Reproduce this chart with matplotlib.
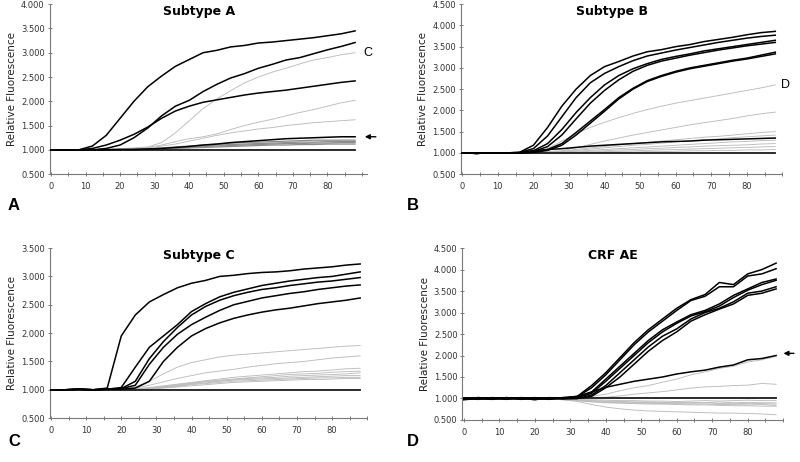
import matplotlib
matplotlib.use("Agg")
import matplotlib.pyplot as plt   # type: ignore
import numpy as np   # type: ignore

cycles = [0, 4, 8, 12, 16, 20, 24, 28, 32, 36, 40, 44,
          48, 52, 56, 60, 64, 68, 72, 76, 80, 84, 88]

flat = [1.0] * 23

# ---------------- Subtype A ----------------
a_black = [
    [1.0, 1.0, 1.0, 1.08, 1.3, 1.65, 2.0, 2.3, 2.52, 2.72, 2.86, 3.0,
     3.05, 3.12, 3.15, 3.2, 3.22, 3.25, 3.28, 3.31, 3.35, 3.39, 3.45],
    [1.0, 1.0, 1.0, 1.0, 1.03, 1.1, 1.25, 1.45, 1.7, 1.9, 2.02, 2.2,
     2.35, 2.48, 2.57, 2.68, 2.76, 2.85, 2.9, 2.98, 3.06, 3.13, 3.21],
    [1.0, 1.0, 1.0, 1.03, 1.1, 1.2, 1.32, 1.47, 1.65, 1.8, 1.9, 1.98,
     2.03, 2.08, 2.13, 2.17, 2.2, 2.23, 2.27, 2.31, 2.35, 2.39, 2.42],
    [1.0, 1.0, 1.0, 1.0, 1.0, 1.01, 1.01, 1.02, 1.03, 1.05, 1.07, 1.1,
     1.12, 1.15, 1.17, 1.19, 1.21, 1.23, 1.24, 1.25, 1.26, 1.27, 1.27],
]
a_light = [
    [1.0, 1.0, 1.0, 1.01, 1.02, 1.03, 1.04, 1.06, 1.15, 1.35, 1.6, 1.85,
     2.05, 2.22, 2.38, 2.5, 2.6, 2.68, 2.77, 2.85, 2.9, 2.96, 3.0],
    [1.0, 1.0, 1.0, 1.0, 1.01, 1.02, 1.03, 1.05, 1.1, 1.17, 1.23, 1.27,
     1.33, 1.42, 1.5, 1.57, 1.63, 1.7, 1.77, 1.83, 1.9, 1.97, 2.02],
    [1.0, 1.0, 1.0, 1.0, 1.01, 1.02, 1.03, 1.04, 1.08, 1.12, 1.18, 1.24,
     1.3, 1.35, 1.39, 1.43, 1.46, 1.5, 1.53, 1.56, 1.58, 1.6, 1.62],
]
a_gray = [
    [1.0, 1.0, 1.0, 1.0, 1.0, 1.0, 1.01, 1.02, 1.04, 1.06, 1.08, 1.1,
     1.12, 1.14, 1.15, 1.16, 1.17, 1.18, 1.19, 1.2, 1.2, 1.2, 1.2],
    [1.0, 1.0, 1.0, 1.0, 1.0, 1.0, 1.01, 1.02, 1.03, 1.05, 1.07, 1.08,
     1.1, 1.11, 1.12, 1.13, 1.14, 1.15, 1.16, 1.16, 1.17, 1.17, 1.17],
    [1.0, 1.0, 1.0, 1.0, 1.0, 1.0, 1.0, 1.01, 1.02, 1.04, 1.05, 1.07,
     1.08, 1.09, 1.1, 1.11, 1.12, 1.13, 1.13, 1.14, 1.14, 1.15, 1.15],
    [1.0, 1.0, 1.0, 1.0, 1.0, 1.0, 1.0, 1.01, 1.02, 1.03, 1.04, 1.05,
     1.06, 1.07, 1.08, 1.09, 1.1, 1.1, 1.11, 1.11, 1.12, 1.12, 1.12],
]

# ---------------- Subtype B ----------------
b_black = [
    [1.0, 0.99, 1.0, 1.0, 1.01, 1.18, 1.6, 2.1, 2.5, 2.82, 3.03, 3.15,
     3.28, 3.38, 3.43, 3.5, 3.55, 3.62, 3.67, 3.72, 3.78, 3.83, 3.86],
    [1.0, 0.99, 1.0, 1.0, 1.01, 1.1, 1.4, 1.85, 2.3, 2.65, 2.87, 3.03,
     3.17, 3.28, 3.35, 3.42, 3.48, 3.54, 3.6, 3.65, 3.7, 3.74, 3.77],
    [1.0, 0.99, 1.0, 1.0, 1.0, 1.05, 1.22, 1.55, 1.95, 2.3, 2.6, 2.82,
     2.98, 3.1, 3.2, 3.27, 3.33, 3.4, 3.45, 3.5, 3.55, 3.6, 3.65],
    [1.0, 0.99, 1.0, 1.0, 1.0, 1.03, 1.15, 1.42, 1.8, 2.17, 2.47, 2.72,
     2.92, 3.06, 3.16, 3.23, 3.3, 3.36, 3.42, 3.47, 3.52, 3.56, 3.6],
    [1.0, 0.99, 1.0, 1.0, 1.0, 1.02, 1.08, 1.22, 1.48, 1.75, 2.02, 2.3,
     2.52, 2.7, 2.82, 2.92, 3.0, 3.06, 3.12, 3.18, 3.23, 3.3, 3.37],
    [1.0, 0.99, 1.0, 1.0, 1.0, 1.01, 1.06, 1.18, 1.42, 1.7, 1.98, 2.27,
     2.5, 2.68, 2.8, 2.9, 2.98, 3.04, 3.1, 3.16, 3.21, 3.27, 3.33],
    [1.0, 0.99, 1.0, 1.0, 1.01, 1.05, 1.08, 1.1, 1.13, 1.16, 1.18, 1.2,
     1.22, 1.24, 1.26, 1.27, 1.28, 1.3, 1.31, 1.32, 1.33, 1.34, 1.35],
]
b_light = [
    [1.0, 1.0, 1.0, 1.0, 1.0, 1.02, 1.1, 1.28, 1.45, 1.6, 1.72, 1.83,
     1.93, 2.02, 2.1, 2.17, 2.23, 2.29, 2.35, 2.41, 2.47, 2.53, 2.6],
    [1.0, 1.0, 1.0, 1.0, 1.0, 1.01, 1.03, 1.05, 1.12, 1.2, 1.28, 1.35,
     1.42, 1.48, 1.54, 1.6, 1.66, 1.71, 1.76, 1.81, 1.87, 1.92, 1.96],
    [1.0, 1.0, 1.0, 1.0, 1.0, 1.0, 1.02, 1.04, 1.08, 1.12, 1.15, 1.19,
     1.22, 1.25, 1.28, 1.31, 1.34, 1.37, 1.39, 1.42, 1.45, 1.48, 1.5],
    [1.0, 1.0, 1.0, 1.0, 1.0, 1.0, 1.01, 1.03, 1.06, 1.09, 1.12, 1.15,
     1.18, 1.2, 1.23, 1.26, 1.28, 1.31, 1.33, 1.36, 1.38, 1.4, 1.42],
    [1.0, 1.0, 1.0, 1.0, 1.0, 1.0, 1.01, 1.02, 1.04, 1.06, 1.08, 1.1,
     1.12, 1.14, 1.16, 1.18, 1.2, 1.22, 1.24, 1.26, 1.27, 1.29, 1.3],
    [1.0, 1.0, 1.0, 1.0, 1.0, 1.0, 1.0, 1.01, 1.02, 1.04, 1.05, 1.07,
     1.08, 1.1, 1.11, 1.13, 1.14, 1.16, 1.17, 1.18, 1.19, 1.21, 1.22],
    [1.0, 1.0, 1.0, 1.0, 1.0, 1.0, 1.0, 1.0, 1.01, 1.02, 1.03, 1.04,
     1.05, 1.06, 1.07, 1.08, 1.09, 1.1, 1.11, 1.12, 1.13, 1.14, 1.15],
    [1.0, 1.0, 1.0, 1.0, 1.0, 1.0, 1.0, 1.0, 1.0, 1.01, 1.01, 1.02,
     1.02, 1.03, 1.03, 1.04, 1.05, 1.05, 1.06, 1.06, 1.07, 1.07, 1.08],
]

# ---------------- Subtype C ----------------
c_black = [
    [1.0, 1.0, 1.01, 1.0, 1.03, 1.95, 2.32, 2.55, 2.68, 2.8, 2.88, 2.93,
     3.0, 3.02, 3.05, 3.07, 3.08, 3.1, 3.13, 3.15, 3.17, 3.2, 3.22],
    [1.0, 1.0, 1.01, 1.0, 1.01, 1.04, 1.4, 1.75, 1.95, 2.15, 2.38, 2.52,
     2.64, 2.72, 2.78, 2.84, 2.88, 2.92, 2.95, 2.98, 3.0, 3.04, 3.08],
    [1.0, 1.0, 1.01, 1.0, 1.01, 1.02, 1.15, 1.55, 1.85, 2.1, 2.32, 2.47,
     2.58, 2.66, 2.72, 2.77, 2.8, 2.84, 2.87, 2.9, 2.92, 2.95, 2.98],
    [1.0, 1.0, 1.01, 1.0, 1.01, 1.02, 1.08, 1.45, 1.75, 1.98, 2.15, 2.28,
     2.4, 2.5, 2.56, 2.62, 2.66, 2.7, 2.73, 2.77, 2.8, 2.83, 2.85],
    [1.0, 1.0, 1.01, 1.0, 1.01, 1.01, 1.03, 1.15, 1.5, 1.75, 1.95, 2.08,
     2.18, 2.26, 2.32, 2.37, 2.41, 2.44, 2.48, 2.52, 2.55, 2.58, 2.62],
]
c_light = [
    [1.0, 1.0, 1.0, 1.0, 1.0, 1.01, 1.05, 1.15, 1.28, 1.4, 1.48, 1.53,
     1.58, 1.61, 1.63, 1.65, 1.67, 1.69, 1.71, 1.73, 1.75, 1.77, 1.78],
    [1.0, 1.0, 1.0, 1.0, 1.0, 1.01, 1.03, 1.08, 1.14, 1.2, 1.25, 1.3,
     1.33, 1.36, 1.4, 1.43, 1.46, 1.48, 1.5, 1.53, 1.56, 1.58, 1.6],
    [1.0, 1.0, 1.0, 1.0, 1.0, 1.0, 1.02, 1.04, 1.07, 1.1, 1.13, 1.16,
     1.19, 1.22, 1.24, 1.26, 1.28, 1.3, 1.32, 1.33, 1.35, 1.37, 1.38],
    [1.0, 1.0, 1.0, 1.0, 1.0, 1.0, 1.01, 1.03, 1.06, 1.09, 1.12, 1.15,
     1.17, 1.19, 1.21, 1.23, 1.25, 1.27, 1.28, 1.29, 1.31, 1.32, 1.33],
    [1.0, 1.0, 1.0, 1.0, 1.0, 1.0, 1.01, 1.03, 1.05, 1.08, 1.11, 1.14,
     1.16, 1.18, 1.2, 1.21, 1.22, 1.24, 1.25, 1.26, 1.27, 1.28, 1.3],
    [1.0, 1.0, 1.0, 1.0, 1.0, 1.0, 1.01, 1.02, 1.04, 1.07, 1.1, 1.12,
     1.15, 1.17, 1.18, 1.19, 1.2, 1.21, 1.22, 1.23, 1.24, 1.25, 1.25],
    [1.0, 1.0, 1.0, 1.0, 1.0, 1.0, 1.0, 1.02, 1.04, 1.06, 1.09, 1.11,
     1.13, 1.15, 1.16, 1.17, 1.18, 1.19, 1.2, 1.21, 1.21, 1.22, 1.22],
    [1.0, 1.0, 1.0, 1.0, 1.0, 1.0, 1.0, 1.01, 1.03, 1.05, 1.07, 1.09,
     1.11, 1.13, 1.14, 1.15, 1.16, 1.17, 1.18, 1.18, 1.19, 1.2, 1.2],
]

# ---------------- CRF AE ----------------
d_black = [
    [0.98, 1.02, 0.99, 1.02, 0.98, 1.01, 1.0, 1.02, 1.05, 1.3, 1.6, 1.95,
     2.3, 2.6, 2.85, 3.1, 3.3, 3.42, 3.7, 3.65, 3.9, 4.0, 4.15],
    [0.99, 1.01, 1.0, 1.01, 0.99, 1.02, 0.99, 1.01, 1.04, 1.25, 1.55, 1.9,
     2.25, 2.55, 2.8, 3.05, 3.28, 3.38, 3.6, 3.6, 3.85, 3.9, 4.02],
    [1.0, 0.98, 1.02, 0.99, 1.01, 0.97, 1.02, 1.0, 1.03, 1.15, 1.45, 1.75,
     2.05, 2.35, 2.6, 2.78, 2.95, 3.05, 3.2, 3.4, 3.55, 3.7, 3.78],
    [0.97, 1.0, 1.01, 0.98, 1.02, 1.0, 0.98, 1.02, 1.02, 1.12, 1.4, 1.7,
     2.0, 2.3, 2.55, 2.75, 2.92, 3.02, 3.15, 3.35, 3.52, 3.65, 3.75],
    [1.01, 0.99, 0.98, 1.02, 0.99, 1.01, 1.0, 0.99, 1.0, 1.08, 1.3, 1.6,
     1.9, 2.2, 2.45, 2.62, 2.85, 3.0, 3.1, 3.25, 3.45, 3.5, 3.6],
    [0.99, 1.02, 1.0, 0.99, 1.0, 0.98, 1.01, 1.0, 1.0, 1.05, 1.25, 1.5,
     1.8, 2.1, 2.35, 2.55, 2.8, 2.95, 3.08, 3.2, 3.4, 3.45, 3.55],
    [1.0, 1.01, 0.99, 1.0, 1.01, 0.99, 1.0, 1.0, 1.05, 1.15, 1.26, 1.33,
     1.4, 1.45, 1.5, 1.57, 1.62, 1.66, 1.73, 1.78, 1.9, 1.93, 2.0],
]
d_light = [
    [1.0, 1.0, 1.0, 1.0, 1.0, 1.0, 1.0, 1.0, 1.01, 1.05, 1.1, 1.18,
     1.25, 1.3, 1.38, 1.45, 1.55, 1.62, 1.7, 1.75, 1.85, 1.9, 1.98],
    [1.0, 1.0, 1.0, 1.0, 1.0, 1.0, 1.0, 1.0, 1.0, 1.02, 1.03, 1.06,
     1.1, 1.13, 1.16, 1.2, 1.24, 1.27, 1.28, 1.3, 1.31, 1.35, 1.33],
    [1.0, 1.0, 1.0, 1.0, 1.0, 1.0, 1.0, 0.99, 0.98, 0.97, 0.96, 0.95,
     0.95, 0.94, 0.94, 0.93, 0.94, 0.95, 0.94, 0.95, 0.96, 0.95, 0.95],
    [1.0, 1.0, 1.0, 1.0, 1.0, 1.0, 1.0, 0.99, 0.97, 0.95, 0.94, 0.93,
     0.92, 0.92, 0.91, 0.9, 0.91, 0.9, 0.92, 0.9, 0.91, 0.9, 0.9],
    [1.0, 1.0, 1.0, 1.0, 1.0, 1.0, 0.99, 0.98, 0.96, 0.94, 0.93, 0.92,
     0.91, 0.9, 0.9, 0.9, 0.89, 0.9, 0.88, 0.89, 0.88, 0.88, 0.87],
    [1.0, 1.0, 1.0, 1.0, 1.0, 1.0, 0.99, 0.98, 0.95, 0.93, 0.91, 0.9,
     0.89, 0.89, 0.88, 0.88, 0.87, 0.87, 0.86, 0.86, 0.85, 0.86, 0.84],
    [1.0, 1.0, 1.0, 1.0, 1.0, 1.0, 0.99, 0.97, 0.95, 0.92, 0.9, 0.89,
     0.88, 0.87, 0.87, 0.86, 0.85, 0.85, 0.84, 0.83, 0.83, 0.82, 0.82],
    [1.0, 1.0, 1.0, 1.0, 1.0, 1.0, 0.99, 0.97, 0.93, 0.86, 0.8, 0.76,
     0.73, 0.71, 0.7, 0.69, 0.68, 0.67, 0.66, 0.66, 0.65, 0.64, 0.62],
]

panels = [
    # title, black, light, dark-gray, ymax, letter
    ("Subtype A", a_black, a_light, a_gray, 4.0, "A"),
    ("Subtype B", b_black, b_light, [], 4.5, "B"),
    ("Subtype C", c_black, c_light, [], 3.5, "C"),
    ("CRF AE", d_black, d_light, [], 4.5, "D"),
]

# axes boxes in figure fractions (left, bottom, width, height)
boxes = [
    (0.062, 0.623, 0.397, 0.368),
    (0.576, 0.623, 0.402, 0.368),
    (0.062, 0.095, 0.397, 0.368),
    (0.578, 0.091, 0.401, 0.372),
]
xmax = [91.5, 89.0, 89.5, 89.5]
letter_pos = [(0.010, 0.555), (0.509, 0.555), (0.010, 0.045), (0.509, 0.045)]

fig = plt.figure(figsize=(8.0, 4.62), dpi=100)
fig.patch.set_facecolor("white")

for i, (title, blk, lgt, gry, ymax, letter) in enumerate(panels):
    ax = fig.add_axes(boxes[i])
    for y in lgt:
        ax.plot(cycles, y, color="#bcbcbc", lw=0.65, zorder=2)
    for y in gry:
        ax.plot(cycles, y, color="#8c8c8c", lw=0.9, zorder=2)
    ax.plot(cycles, flat, color="#1a1a1a", lw=1.3, zorder=3)
    for y in blk:
        ax.plot(cycles, y, color="black", lw=1.1, zorder=4)

    ax.set_xlim(-0.4, xmax[i])
    ax.set_ylim(0.5, ymax)
    ax.set_xticks(np.arange(0, 81, 10))
    ax.set_xticks(np.arange(0, 91, 5), minor=True)
    ax.set_yticks(np.arange(0.5, ymax + 0.01, 0.5))
    ax.set_yticklabels(["%.3f" % v for v in np.arange(0.5, ymax + 0.01, 0.5)])
    for s in ("top", "right"):
        ax.spines[s].set_visible(False)
    for s in ("left", "bottom"):
        ax.spines[s].set_color("#7a7a7a")
        ax.spines[s].set_linewidth(0.8)
    ax.tick_params(which="both", direction="inout", length=3, width=0.7,
                   color="#7a7a7a", labelsize=6, labelcolor="#333333", pad=2)
    ax.tick_params(axis="x", pad=4)
    ax.set_ylabel("Relative Fluorescence", fontsize=7.5, color="#222222",
                  labelpad=3)
    ax.text(0.47, 0.955, title, transform=ax.transAxes, ha="center",
            va="center", fontsize=9, fontweight="bold")
    fig.text(letter_pos[i][0], letter_pos[i][1], letter, fontsize=12,
             fontweight="bold", family="Liberation Sans", va="center")

    if letter == "A":
        ax.text(90.3, 3.0, "C", fontsize=9, family="Liberation Sans",
                va="center", ha="left")
        ax.annotate("", xy=(90.0, 1.27), xytext=(94.8, 1.27),
                    arrowprops=dict(arrowstyle="-|>", color="black", lw=1.0,
                                    mutation_scale=7), annotation_clip=False)
    if letter == "B":
        ax.text(89.6, 2.6, "D", fontsize=9, family="Liberation Sans",
                va="center", ha="left")
    if letter == "D":
        ax.annotate("", xy=(89.3, 2.05), xytext=(93.8, 2.05),
                    arrowprops=dict(arrowstyle="-|>", color="black", lw=1.0,
                                    mutation_scale=7), annotation_clip=False)

plt.savefig("out.png", dpi=100, facecolor="white")
